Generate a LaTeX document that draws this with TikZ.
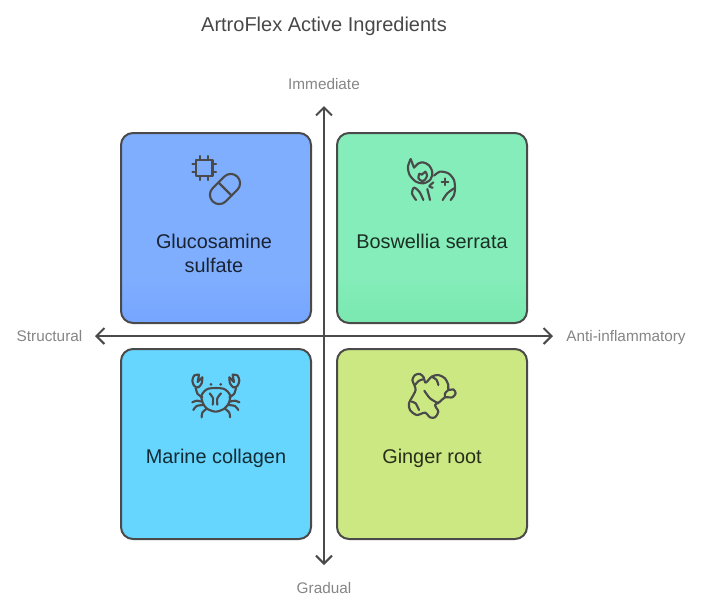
\documentclass[tikz,border=0pt]{standalone}
\usepackage{fontspec}
\setmainfont{Liberation Sans}
\usetikzlibrary{arrows.meta}
\definecolor{inkdark}{HTML}{4A4A4A}
\definecolor{axislabel}{HTML}{858585}
\definecolor{titleink}{HTML}{484848}
\definecolor{bluefill}{HTML}{80AEFF}
\definecolor{bluelow}{HTML}{75A5FF}
\definecolor{greenfill}{HTML}{85EDBA}
\definecolor{greenlow}{HTML}{7AE8B0}
\definecolor{cyanfill}{HTML}{66D6FF}
\definecolor{limefill}{HTML}{CBE882}
\pgfdeclareverticalshading{blueshade}{100bp}{color(0bp)=(bluelow); color(25bp)=(bluelow); color(38bp)=(bluefill); color(100bp)=(bluefill)}
\pgfdeclareverticalshading{greenshade}{100bp}{color(0bp)=(greenlow); color(25bp)=(greenlow); color(38bp)=(greenfill); color(100bp)=(greenfill)}
\tikzset{
	quad/.style={draw=inkdark, line width=1.5pt, rounded corners=9pt, minimum width=142.5pt, minimum height=142.5pt, inner sep=0pt},
	axis/.style={draw=inkdark, line width=1.5pt, {Straight Barb[length=6pt,width=12pt,line width=1.5pt]}-{Straight Barb[length=6pt,width=12pt,line width=1.5pt]}},
	axistext/.style={text=axislabel, font=\fontsize{11.5}{12}\selectfont, inner sep=0pt},
	boxtext/.style={font=\fontsize{14.9}{18}\selectfont, align=center, inner sep=0pt},
	icon/.style={draw=inkdark, line width=1.6pt, line cap=round, line join=round}
}
\begin{document}
\begin{tikzpicture}[x=0.75pt, y=-0.75pt]
	\useasboundingbox (0, 0) rectangle (708, 612);

	% title
	\node[text=titleink, font=\fontsize{15}{16}\selectfont, inner sep=0pt] (title) at (324, 26.5) {ArtroFlex Active Ingredients};

	% quadrants
	\node[quad, shading=blueshade] (glucosamine) at (216, 228) {};
	\node[quad, shading=greenshade] (boswellia) at (432, 228) {};
	\node[quad, fill=cyanfill] (collagen) at (216, 444) {};
	\node[quad, fill=limefill] (ginger) at (432, 444) {};

	% axes
	\coordinate (west) at (95, 336);
	\coordinate (east) at (553, 336);
	\coordinate (north) at (324, 106);
	\coordinate (south) at (324, 565);
	\draw[axis] (west) -- (east);
	\draw[axis] (south) -- (north);

	\node[axistext] (immediate) at (324, 84.5) {Immediate};
	\node[axistext] (gradual) at (324, 588.5) {Gradual};
	\node[axistext] (structural) at (49.5, 336.5) {Structural};
	\node[axistext] (antiinfl) at (626, 338) {Anti-inflammatory};

	% labels
	\node[boxtext, text=black!80!bluefill] (glucosaminetext) at (214, 253) {Glucosamine\\sulfate};
	\node[boxtext, text=black!80!greenfill] (boswelliatext) at (432, 241) {Boswellia serrata};
	\node[boxtext, text=black!80!cyanfill] (collagentext) at (216, 458) {Marine collagen};
	\node[boxtext, text=black!80!limefill] (gingertext) at (432, 458.5) {Ginger root};

	% chip and pill
	\begin{scope}[icon]
		\draw (196, 160) rectangle (212.5, 176);
		\foreach \p in {200, 208} {
			\draw (\p, 156) -- (\p, 160);
			\draw (\p, 176) -- (\p, 180);
		}
		\foreach \p in {164, 172} {
			\draw (192.5, \p) -- (196, \p);
			\draw (212.5, \p) -- (216, \p);
		}
		\draw[rotate around={45:(225, 189)}, rounded corners=7pt] (207.5, 179.7) rectangle (242.5, 198.3);
		\draw (218.5, 182.5) -- (231.5, 195.5);
	\end{scope}

	% resin drop and leaf
	\begin{scope}[icon, shift={(390, 145)}, x=0.25pt, y=-0.25pt]
		\draw plot[smooth] coordinates {(62,42) (54,65) (59,90) (78,110) (100,115) (121,104) (127,82) (117,61) (99,52) (84,56) (72,68)};
		\draw (72,68) -- (62,42);
		\draw plot[smooth] coordinates {(85,100) (88,86) (96,89) (106,80) (111,92) (105,104) (95,108) (85,100)};
		\draw plot[smooth] coordinates {(132,92) (150,80) (175,85) (192,105) (195,130)};
		\draw plot[smooth] coordinates {(128,128) (118,124) (130,112)};
		\draw plot[smooth] coordinates {(192,130) (172,145) (158,165)};
		\draw plot[smooth] coordinates {(195,132) (192,150) (182,165)};
		\draw plot[smooth] coordinates {(100,165) (88,140) (72,128) (66,145) (78,165)};
		\draw plot[smooth] coordinates {(112,132) (116,148) (120,165)};
		\draw (165,100) -- (165,120);
		\draw (155,110) -- (175,110);
	\end{scope}

	% crab
	\begin{scope}[icon, shift={(175, 360)}, x=0.25pt, y=-0.25pt]
		\draw plot[smooth cycle] coordinates {(80,105) (100,86) (145,86) (165,105) (162,128) (148,146) (122,155) (96,146) (83,128)};
		\draw plot[smooth] coordinates {(113,134) (114,115) (104,100)};
		\draw plot[smooth] coordinates {(127,134) (127,115) (138,100)};
		\fill[inkdark] (108,73) circle (4.5);
		\fill[inkdark] (137,73) circle (4.5);
		\foreach \m/\o in {1/0, -1/245} {
			\begin{scope}[xshift=\o*0.25pt, x=\m*0.25pt]
				\draw plot[smooth] coordinates {(72,44) (58,46) (52,62) (58,78) (70,82) (80,70) (82,52)};
				\draw (82,52) -- (68,66) -- (72,44);
				\draw plot[smooth] coordinates {(62,84) (68,102) (82,112)};
				\draw plot[smooth] coordinates {(52,127) (65,122) (80,125)};
				\draw plot[smooth] coordinates {(55,150) (65,138) (85,135)};
				\draw plot[smooth] coordinates {(80,172) (82,158) (95,146)};
			\end{scope}
		}
	\end{scope}

	% ginger
	\begin{scope}[icon, shift={(395, 360)}, x=0.25pt, y=-0.25pt]
		\draw plot[smooth cycle] coordinates {(58,75) (52,60) (60,45) (75,42) (86,52) (92,68) (110,50) (130,45) (150,55) (160,75) (160,90) (175,88) (182,100) (172,112) (150,112) (135,125) (120,135) (130,155) (120,172) (105,172) (90,158) (65,165) (45,150) (42,130) (55,105) (62,90)};
		\draw plot[smooth] coordinates {(60,75) (72,62) (85,58)};
		\draw plot[smooth] coordinates {(88,92) (105,115) (130,130)};
		\draw plot[smooth] coordinates {(110,50) (125,60) (130,75)};
		\draw plot[smooth] coordinates {(150,112) (150,100) (158,92)};
		\draw plot[smooth] coordinates {(50,125) (62,130) (72,150)};
	\end{scope}
\end{tikzpicture}
\end{document}
